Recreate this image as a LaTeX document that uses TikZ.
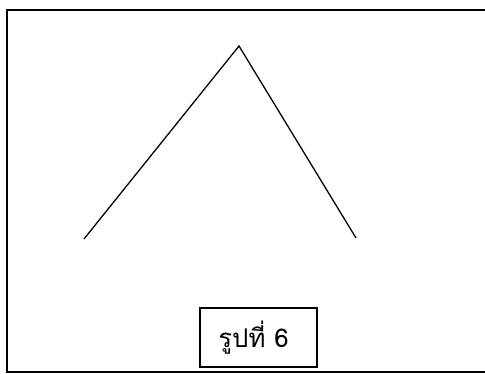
\documentclass[tikz,border=0pt]{standalone}
\usepackage{fontspec}
\newfontfamily\thaifont[Script=Thai]{Loma}
\usepackage{tikz}
\usetikzlibrary{positioning}

\begin{document}
\begin{tikzpicture}[
        x=0.03cm, y=-0.03cm,
        frameline/.style={draw, line width=1.4pt},
        wedge/.style={draw, line width=1.1pt},
        caption/.style={rectangle, draw, line width=1.5pt, minimum width=3.51cm, minimum height=1.77cm, inner sep=0pt, font=\thaifont\fontsize{22}{26}\selectfont}
    ]
        \useasboundingbox (0,0) rectangle (485,374);
        \fill[white] (0,0) rectangle (485,374);
        % frame
        \draw[frameline] (485,10) -- (7,10) -- (7,372) -- (485,372);
        % the inverted V
        \coordinate (apex) at (239,46);
        \coordinate (leftend) at (84,239);
        \coordinate (rightend) at (356,238);
        \draw[wedge] (leftend) -- (apex) -- (rightend);
        % caption
        \node[caption] (fig) at (258.5,337.5) {\raisebox{-3pt}{รูปที่ 6}\hspace*{0.3cm}};
    \end{tikzpicture}
\end{document}
